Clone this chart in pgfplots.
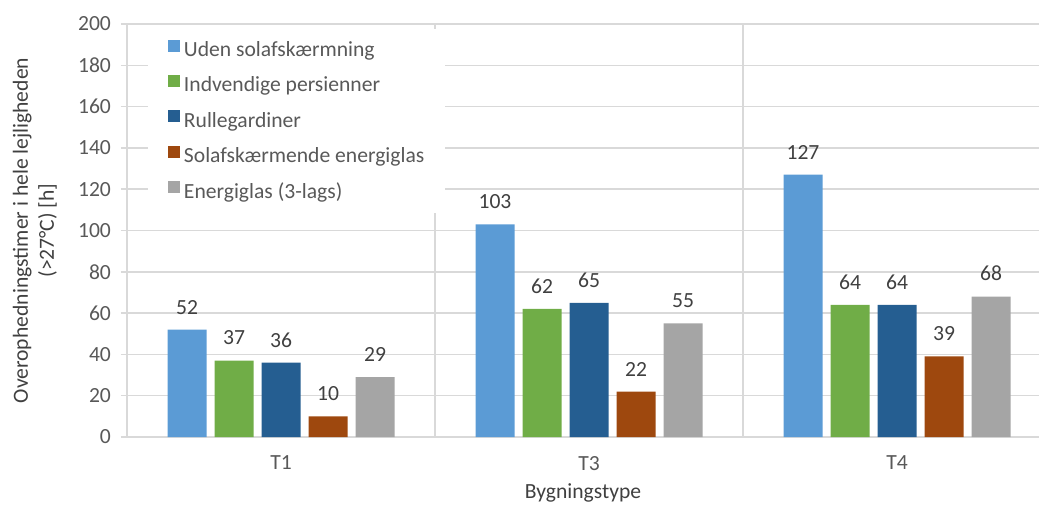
\documentclass[border=0pt]{standalone}
\usepackage{pgfplots}
\pgfplotsset{compat=1.18}
\usepackage{fontspec}
\setmainfont{Carlito}
\definecolor{c1}{HTML}{5B9BD5}
\definecolor{c2}{HTML}{70AD47}
\definecolor{c3}{HTML}{255E91}
\definecolor{c4}{HTML}{9E480E}
\definecolor{c5}{HTML}{A5A5A5}
\definecolor{gridc}{HTML}{D9D9D9}
\definecolor{txt}{HTML}{595959}
\definecolor{lbl}{HTML}{404040}
\begin{document}
\begin{tikzpicture}
\begin{axis}[
  at={(0,0)}, anchor=south west,
  scale only axis, width=456pt, height=206.5pt,
  xmin=-0.5, xmax=2.461, ymin=0, ymax=200,
  ytick={0,20,...,200},
  xtick={0,1,2}, xticklabels={T1,T3,T4},
  minor xtick={0.5,1.5},
  ymajorgrids, xminorgrids,
  grid style={draw=gridc, line width=0.75pt},
  minor grid style={draw=gridc, line width=0.75pt},
  axis x line*=bottom, axis y line*=left,
  axis line style={draw=gridc, line width=0.75pt, -},
  xtick style={draw=none},
  minor x tick style={draw=none},
  ytick style={draw=gridc, line width=0.75pt},
  major tick length=3pt, tick align=outside,
  ybar=4pt, bar width=19.5pt,
  nodes near coords,
  every node near coord/.append style={font=\fontsize{10.8}{12}\selectfont, text=lbl, yshift=4.2pt},
  tick label style={font=\fontsize{10.8}{12}\selectfont, text=txt},
  yticklabel style={xshift=-1.5pt},
  xticklabel style={yshift=-3pt},
  /pgf/number format/assume math mode=true,
  xlabel={Bygningstype},
  xlabel style={at={(axis description cs:0.5,-0.1356)}, anchor=center, font=\fontsize{10.8}{12}\selectfont, text=lbl},
  ylabel={Overophedningstimer i hele lejligheden\\(>27°C) [h]},
  ylabel style={at={(axis description cs:-0.1009,0.5)}, anchor=center, align=center, font=\fontsize{10.8}{13}\selectfont, text=lbl},
  legend style={at={(axis description cs:0.023,0.99)}, anchor=north west, draw=none, fill=white,
    font=\fontsize{10.8}{12}\selectfont, text=txt, row sep=7.2pt, inner xsep=10pt, inner ysep=5.5pt,
    nodes={inner sep=0.5pt, text height=7.5pt, text depth=1.5pt}},
  legend cell align=left,
  legend image code/.code={\fill[#1,draw=none] (0pt,-0.5pt) rectangle (6pt,5.5pt); \path (7.3pt,0pt);},
]
\addplot[fill=c1, draw=none] coordinates {(0,52) (1,103) (2,127)};
\addplot[fill=c2, draw=none] coordinates {(0,37) (1,62) (2,64)};
\addplot[fill=c3, draw=none] coordinates {(0,36) (1,65) (2,64)};
\addplot[fill=c4, draw=none] coordinates {(0,10) (1,22) (2,39)};
\addplot[fill=c5, draw=none] coordinates {(0,29) (1,55) (2,68)};
\legend{Uden solafskærmning, Indvendige persienner, Rullegardiner, Solafskærmende energiglas, Energiglas (3-lags)}
\end{axis}
\pgfresetboundingbox
\useasboundingbox (-63.5pt,-33.5pt) rectangle (456pt,218.5pt);
\end{tikzpicture}
\end{document}
